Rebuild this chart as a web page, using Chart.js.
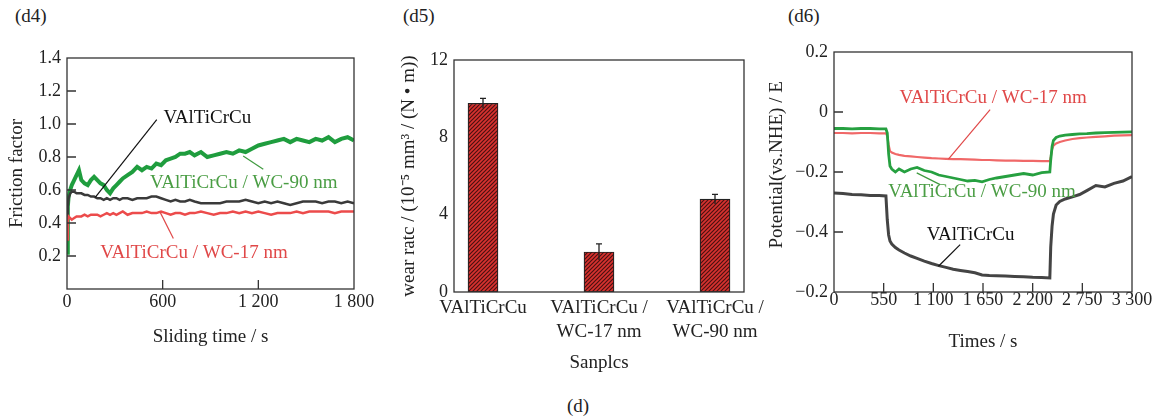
<!DOCTYPE html>
<html>
<head>
<meta charset="utf-8">
<script src="https://cdn.jsdelivr.net/npm/chart.js@4.4.0/dist/chart.umd.min.js"></script>
<style>
body{margin:0;background:#fff;width:1161px;height:419px;overflow:hidden;position:relative;font-family:'Liberation Serif',serif;color:#222}
.box{position:absolute;top:0}
.tag{position:absolute;font-size:19px;line-height:1}
</style>
</head>
<body>
<div class="tag" style="left:15px;top:6px">(d4)</div>
<div class="tag" style="left:403px;top:6px">(d5)</div>
<div class="tag" style="left:788px;top:6px">(d6)</div>
<div class="tag" style="left:567px;top:396px">(d)</div>
<div class="box" style="left:0"><canvas id="c4" width="380" height="360"></canvas></div>
<div class="box" style="left:380px"><canvas id="c5" width="400" height="380"></canvas></div>
<div class="box" style="left:760px"><canvas id="c6" width="401" height="360"></canvas></div>
<script>
// (d4) friction factor vs sliding time
const frictionTime = [0,5,10,20,30,45,60,75,90,110,130,150,170,190,210,230,250,270,290,310,330,350,380,410,440,470,500,530,560,590,620,650,680,710,740,770,800,840,880,920,960,1000,1040,1080,1120,1160,1200,1240,1280,1320,1360,1400,1440,1480,1520,1560,1600,1640,1680,1720,1760,1800];
const frictionPlain = [0.30,0.50,0.55,0.58,0.59,0.59,0.58,0.58,0.58,0.57,0.57,0.56,0.56,0.55,0.55,0.54,0.55,0.54,0.55,0.55,0.54,0.55,0.55,0.54,0.55,0.55,0.55,0.56,0.56,0.55,0.54,0.53,0.54,0.53,0.53,0.54,0.53,0.52,0.52,0.52,0.52,0.53,0.53,0.53,0.54,0.53,0.52,0.53,0.52,0.53,0.52,0.51,0.52,0.53,0.53,0.53,0.52,0.53,0.53,0.52,0.53,0.52];
const frictionWC17 = [0.30,0.42,0.44,0.43,0.42,0.43,0.44,0.44,0.44,0.45,0.44,0.45,0.45,0.45,0.44,0.45,0.46,0.45,0.46,0.45,0.46,0.47,0.45,0.46,0.46,0.46,0.47,0.46,0.46,0.47,0.46,0.45,0.46,0.46,0.45,0.46,0.46,0.47,0.46,0.45,0.46,0.46,0.47,0.46,0.47,0.46,0.47,0.46,0.45,0.46,0.46,0.46,0.47,0.46,0.47,0.47,0.47,0.47,0.46,0.47,0.47,0.47];
const frictionWC90 = [0.22,0.50,0.56,0.60,0.63,0.66,0.69,0.72,0.66,0.64,0.63,0.66,0.68,0.66,0.64,0.63,0.60,0.58,0.61,0.63,0.65,0.67,0.69,0.71,0.74,0.72,0.74,0.73,0.76,0.75,0.78,0.79,0.80,0.82,0.82,0.83,0.81,0.83,0.80,0.81,0.82,0.83,0.82,0.84,0.83,0.85,0.87,0.88,0.89,0.90,0.91,0.89,0.91,0.90,0.89,0.91,0.90,0.92,0.89,0.91,0.92,0.90];
const frictionXLabels = ['0','600','1 200','1 800'];

// (d5) wear rate
const wearSamples = ['VAlTiCrCu',['VAlTiCrCu /','WC-17 nm'],['VAlTiCrCu /','WC-90 nm']];
const wearRate = [9.76,2.07,4.8];
const wearError = [0.25,0.42,0.25];

// (d6) potential vs time
const potTime = [0,100,200,300,400,500,575,590,605,620,640,680,720,780,850,920,1000,1080,1160,1240,1320,1400,1480,1560,1640,1720,1800,1900,2000,2100,2200,2300,2390,2400,2415,2430,2460,2500,2560,2640,2720,2800,2900,3000,3100,3200,3300];
const potPlain = [-0.270,-0.272,-0.275,-0.276,-0.278,-0.278,-0.280,-0.360,-0.410,-0.430,-0.440,-0.452,-0.460,-0.470,-0.480,-0.488,-0.497,-0.505,-0.512,-0.518,-0.524,-0.528,-0.532,-0.536,-0.543,-0.545,-0.546,-0.547,-0.548,-0.549,-0.551,-0.552,-0.553,-0.450,-0.380,-0.340,-0.310,-0.298,-0.290,-0.283,-0.275,-0.262,-0.245,-0.250,-0.238,-0.230,-0.215];
const potWC17 = [-0.070,-0.070,-0.071,-0.070,-0.070,-0.071,-0.071,-0.080,-0.110,-0.130,-0.135,-0.140,-0.143,-0.146,-0.148,-0.150,-0.152,-0.154,-0.155,-0.156,-0.157,-0.157,-0.158,-0.159,-0.160,-0.160,-0.161,-0.162,-0.162,-0.163,-0.163,-0.164,-0.164,-0.150,-0.125,-0.112,-0.105,-0.100,-0.095,-0.090,-0.087,-0.085,-0.083,-0.081,-0.079,-0.078,-0.077];
const potWC90 = [-0.055,-0.055,-0.056,-0.055,-0.055,-0.056,-0.056,-0.070,-0.140,-0.180,-0.190,-0.200,-0.190,-0.200,-0.190,-0.185,-0.195,-0.200,-0.210,-0.215,-0.220,-0.225,-0.230,-0.228,-0.233,-0.225,-0.220,-0.215,-0.210,-0.205,-0.210,-0.202,-0.200,-0.160,-0.115,-0.095,-0.085,-0.080,-0.077,-0.075,-0.073,-0.072,-0.070,-0.069,-0.068,-0.067,-0.066];
const potXLabels = ['0','550','1 100','1 650','2 200','2 750','3 300'];
const potYLabels = ['\u22120.2','\u22120.4','\u22120.2','0','0.2'];

Chart.defaults.font.family = "'Liberation Serif', 'Times New Roman', serif";
Chart.defaults.font.size = 18;
Chart.defaults.color = '#222';
Chart.defaults.animation = false;
Chart.defaults.plugins.legend.display = false;
Chart.defaults.plugins.tooltip.enabled = false;

function pts(xs, ys){ return xs.map(function(x, i){ return {x: x, y: ys[i]}; }); }

function fixW(w){ return function(s){ s.width = w; }; }
function fixH(h){ return function(s){ s.height = h; }; }

var noGrid = {display: false, drawTicks: false};

// box round the plot plus inward ticks
var frame = {
    id: 'frame',
    afterDraw: function(chart, args, opts){
        var a = chart.chartArea, ctx = chart.ctx, xs = chart.scales.x, ys = chart.scales.y;
        ctx.save();
        ctx.strokeStyle = '#333';
        ctx.lineWidth = 1.3;
        ctx.strokeRect(a.left, a.top, a.right - a.left, a.bottom - a.top);
        ctx.beginPath();
        (opts.xTicks || []).forEach(function(v){
            var p = xs.getPixelForValue(v);
            ctx.moveTo(p, a.bottom); ctx.lineTo(p, a.bottom - 9);
        });
        (opts.yTicks || []).forEach(function(v){
            var p = ys.getPixelForValue(v);
            ctx.moveTo(a.left, p); ctx.lineTo(a.left + 9, p);
        });
        ctx.stroke();
        ctx.restore();
    }
};

// curve names with leader lines
var notes = {
    id: 'notes',
    afterDatasetsDraw: function(chart, args, opts){
        var ctx = chart.ctx, xs = chart.scales.x, ys = chart.scales.y;
        ctx.save();
        (opts.lines || []).forEach(function(l){
            ctx.strokeStyle = l.color;
            ctx.lineWidth = 1.2;
            ctx.beginPath();
            ctx.moveTo(xs.getPixelForValue(l.from[0]), ys.getPixelForValue(l.from[1]));
            ctx.lineTo(xs.getPixelForValue(l.to[0]), ys.getPixelForValue(l.to[1]));
            ctx.stroke();
        });
        ctx.font = "19px 'Liberation Serif', serif";
        ctx.textBaseline = 'middle';
        (opts.texts || []).forEach(function(t){
            ctx.fillStyle = t.color;
            ctx.fillText(t.text, xs.getPixelForValue(t.at[0]), ys.getPixelForValue(t.at[1]));
        });
        ctx.restore();
    }
};

var errBars = {
    id: 'errBars',
    afterDatasetsDraw: function(chart){
        var ctx = chart.ctx, xs = chart.scales.x, ys = chart.scales.y;
        ctx.save();
        ctx.strokeStyle = '#222';
        ctx.lineWidth = 1.3;
        ctx.beginPath();
        wearRate.forEach(function(v, i){
            var x = xs.getPixelForValue(i);
            var t = ys.getPixelForValue(v + wearError[i]), b = ys.getPixelForValue(v - wearError[i]);
            ctx.moveTo(x, t); ctx.lineTo(x, b);
            ctx.moveTo(x - 3, t); ctx.lineTo(x + 3, t);
        });
        ctx.stroke();
        ctx.restore();
    }
};

var titleFont = {size: 19, lineHeight: 1.2};

// ---- (d4)
new Chart(document.getElementById('c4'), {
    type: 'line',
    data: {
        datasets: [
            {data: pts(frictionTime, frictionWC17), borderColor: '#ec4b4b', borderWidth: 2.5},
            {data: pts(frictionTime, frictionPlain), borderColor: '#3a3a3a', borderWidth: 2.5},
            {data: pts(frictionTime, frictionWC90), borderColor: '#1f9d3e', borderWidth: 4}
        ]
    },
    options: {
        responsive: false,
        elements: {point: {radius: 0}, line: {tension: 0}},
        layout: {padding: {left: 0, top: 58, right: 26, bottom: 0}},
        scales: {
            x: {
                type: 'linear', min: 0, max: 1800,
                grid: noGrid, border: {display: false},
                afterFit: fixH(71),
                ticks: {stepSize: 600, padding: 2, autoSkip: false, maxRotation: 0,
                    callback: function(v){ return frictionXLabels[Math.round(v / 600)]; }},
                title: {display: true, text: 'Sliding time / s', font: titleFont, padding: {top: 0, bottom: 12}}
            },
            y: {
                min: 0, max: 1.4,
                grid: noGrid, border: {display: false},
                afterFit: fixW(67),
                ticks: {stepSize: 0.2, padding: 6,
                    callback: function(v){ return v < 0.01 ? '' : v.toFixed(1); }},
                title: {display: true, text: 'Friction factor', font: titleFont, padding: {top: 6, bottom: 0}}
            }
        },
        plugins: {
            frame: {xTicks: [600, 1200], yTicks: [0.2, 0.4, 0.6, 0.8, 1.0, 1.2]},
            notes: {
                lines: [
                    {color: '#111', from: [563, 1.026], to: [177, 0.556]},
                    {color: '#3f9a3f', from: [1105, 0.806], to: [1231, 0.726]},
                    {color: '#e04848', from: [584, 0.466], to: [667, 0.306]}
                ],
                texts: [
                    {text: 'VAlTiCrCu', color: '#111', at: [605, 1.036]},
                    {text: 'VAlTiCrCu / WC-90 nm', color: '#4a9d44', at: [521, 0.64]},
                    {text: 'VAlTiCrCu / WC-17 nm', color: '#e04848', at: [209, 0.216]}
                ]
            }
        }
    },
    plugins: [frame, notes]
});

// ---- (d5)
var c5 = document.getElementById('c5');
function hatch(ctx){
    var c = document.createElement('canvas');
    c.width = 4; c.height = 4;
    var g = c.getContext('2d');
    g.fillStyle = '#d9322f';
    g.fillRect(0, 0, 4, 4);
    g.strokeStyle = '#4a1212';
    g.lineWidth = 1.2;
    g.beginPath();
    g.moveTo(0, 4); g.lineTo(4, 0);
    g.moveTo(-1, 1); g.lineTo(1, -1);
    g.moveTo(3, 5); g.lineTo(5, 3);
    g.stroke();
    return ctx.createPattern(c, 'repeat');
}

new Chart(c5, {
    type: 'bar',
    data: {
        datasets: [{
            data: pts([0, 1, 2], wearRate),
            backgroundColor: hatch(c5.getContext('2d')),
            borderColor: '#222', borderWidth: 1.2, borderSkipped: false,
            barThickness: 30
        }]
    },
    options: {
        responsive: false,
        layout: {padding: {left: 0, top: 60, right: 36, bottom: 0}},
        scales: {
            x: {
                type: 'linear', min: -0.25, max: 2.25, offset: false,
                grid: noGrid, border: {display: false},
                afterFit: fixH(88),
                afterBuildTicks: function(s){ s.ticks = [{value: 0}, {value: 1}, {value: 2}]; },
                ticks: {padding: 4, autoSkip: false, maxRotation: 0,
                    font: {size: 19, lineHeight: 1.25},
                    callback: function(v){ return wearSamples[v]; }},
                title: {display: true, text: 'Sanplcs', font: titleFont, padding: {top: 0, bottom: 6}}
            },
            y: {
                min: 0, max: 12,
                grid: noGrid, border: {display: false},
                afterFit: fixW(74),
                ticks: {stepSize: 4, padding: 6},
                title: {display: true, text: 'wear ratc / (10\u207B\u2075 mm\u00B3 / (N \u2022 m))', font: titleFont, padding: {top: 18, bottom: 0}}
            }
        },
        plugins: {frame: {}}
    },
    plugins: [frame, errBars]
});

// ---- (d6)
new Chart(document.getElementById('c6'), {
    type: 'line',
    data: {
        datasets: [
            {data: pts(potTime, potPlain), borderColor: '#444', borderWidth: 3},
            {data: pts(potTime, potWC90), borderColor: '#26a040', borderWidth: 2.8},
            {data: pts(potTime, potWC17), borderColor: '#f06868', borderWidth: 2.2}
        ]
    },
    options: {
        responsive: false,
        elements: {point: {radius: 0}, line: {tension: 0}},
        layout: {padding: {left: 0, top: 52, right: 29, bottom: 0}},
        scales: {
            x: {
                type: 'linear', min: 0, max: 3300,
                grid: noGrid, border: {display: false},
                afterFit: fixH(68),
                ticks: {stepSize: 550, padding: -3, autoSkip: false, maxRotation: 0,
                    callback: function(v){ return potXLabels[Math.round(v / 550)]; }},
                title: {display: true, text: 'Times / s', font: titleFont, padding: {top: 0, bottom: 7}}
            },
            y: {
                min: -0.6, max: 0.2,
                grid: noGrid, border: {display: false},
                afterFit: fixW(74),
                ticks: {stepSize: 0.2, padding: 6,
                    callback: function(v){ return potYLabels[Math.round((v + 0.6) / 0.2)]; }},
                // leading spaces nudge the rotated title up, as in the original
                title: {display: true, text: '   Potential(vs.NHE) / E', font: titleFont, padding: {top: 6, bottom: 0}}
            }
        },
        plugins: {
            frame: {xTicks: [550, 1100, 1650, 2200, 2750], yTicks: [0, -0.2, -0.4]},
            notes: {
                lines: [
                    {color: '#e04848', from: [1729, 0.008], to: [1267, -0.157]},
                    {color: '#3f9a3f', from: [916, -0.203], to: [1175, -0.242]},
                    {color: '#111', from: [1397, -0.442], to: [1157, -0.514]}
                ],
                texts: [
                    {text: 'VAlTiCrCu / WC-17 nm', color: '#e04848', at: [724, 0.047]},
                    {text: 'VAlTiCrCu / WC-90 nm', color: '#4a9d44', at: [602, -0.268]},
                    {text: 'VAlTiCrCu', color: '#111', at: [1027, -0.409]}
                ]
            }
        }
    },
    plugins: [frame, notes]
});
</script>
</body>
</html>
